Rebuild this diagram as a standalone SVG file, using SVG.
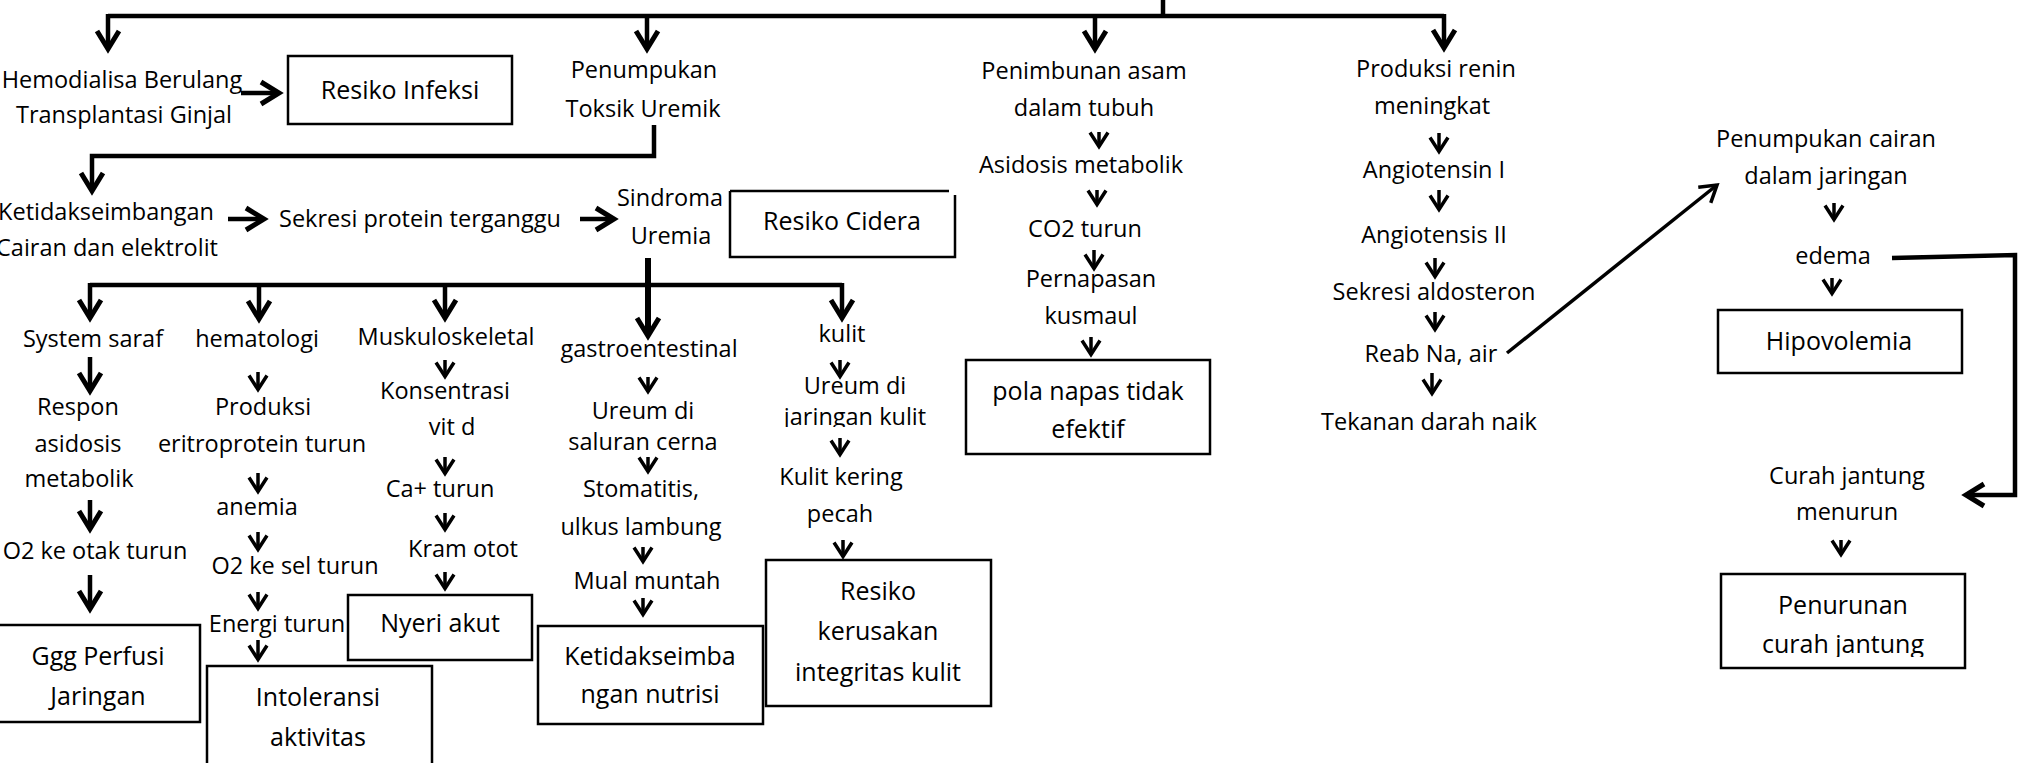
<svg xmlns="http://www.w3.org/2000/svg" width="2028" height="763" viewBox="0 0 2028 763">
<defs>
<style>
text{font-family:"Open Sans","Noto Sans",sans-serif;font-size:23.5px;fill:#000;text-anchor:middle}
.b{font-size:25px}
.box{fill:none;stroke:#000;stroke-width:2.5}
.c{fill:none;stroke:#000;stroke-linejoin:miter}
.tk{stroke-width:4.5}
.tx{stroke-width:6}
.tn{stroke-width:3.5}
.ab{marker-end:url(#big)}
.as{marker-end:url(#sm)}
.am{marker-end:url(#md)}
.mh{fill:none;stroke:#000;stroke-linejoin:miter}
</style>
<marker id="big" markerUnits="userSpaceOnUse" viewBox="-25 -15 30 30" markerWidth="30" markerHeight="30" refX="0" refY="0" orient="auto" overflow="visible"><path class="mh" stroke-width="5" d="M-18,-11 L0,0 L-18,11"/></marker>
<marker id="sm" markerUnits="userSpaceOnUse" viewBox="-25 -15 30 30" markerWidth="30" markerHeight="30" refX="0" refY="0" orient="auto" overflow="visible"><path class="mh" stroke-width="3.5" d="M-14,-9 L0,0 L-14,9"/></marker>
<marker id="md" markerUnits="userSpaceOnUse" viewBox="-25 -15 30 30" markerWidth="30" markerHeight="30" refX="0" refY="0" orient="auto" overflow="visible"><path class="mh" stroke-width="3.5" d="M-16,-10 L0,0 L-16,10"/></marker>
<clipPath id="cpJar"><rect x="700" y="380" width="300" height="47"/></clipPath>
<clipPath id="cpCur"><rect x="1700" y="620" width="300" height="37"/></clipPath>
</defs>
<rect x="0" y="0" width="2028" height="763" fill="#fff"/>

<g id="connectors">
<path class="c tk" d="M108,16 H1444"/>
<path class="c tk" d="M1163,0 V16"/>
<path class="c tk ab" d="M108,14 V49"/>
<path class="c tk ab" d="M647,16 V49"/>
<path class="c tk ab" d="M1095,16 V49"/>
<path class="c tk ab" d="M1444,14 V48"/>
<path class="c tk ab" d="M241,93 H279"/>
<path class="c tk ab" d="M654,125 V156 H92 V191"/>
<path class="c tk ab" d="M228,219 H264"/>
<path class="c tk ab" d="M580,219 H614"/>
<path class="c tk" d="M90,285 H842"/>
<path class="c tx ab" d="M648,258 V336"/>
<path class="c tk ab" d="M90,283 V318"/>
<path class="c tk ab" d="M259,285 V319"/>
<path class="c tk ab" d="M445,285 V318"/>
<path class="c tk ab" d="M842,283 V318"/>
<path class="c tk ab" d="M90,357 V391"/>
<path class="c tk ab" d="M90,500 V529"/>
<path class="c tk ab" d="M90,575 V609"/>
<path class="c tk ab" d="M1892,258 L2015,255 V495 H1966"/>
<path class="c tn as" d="M258,372 V389.5"/>
<path class="c tn as" d="M258,473 V491.5"/>
<path class="c tn as" d="M258,532 V549.5"/>
<path class="c tn as" d="M258,592 V608.5"/>
<path class="c tn as" d="M258,640 V659.5"/>
<path class="c tn as" d="M445,360 V376.5"/>
<path class="c tn as" d="M445,457 V473.5"/>
<path class="c tn as" d="M445,513 V529.5"/>
<path class="c tn as" d="M445,572 V588.5"/>
<path class="c tn as" d="M648,377 V391.5"/>
<path class="c tn as" d="M648,457 V471.5"/>
<path class="c tn as" d="M643,547 V561.5"/>
<path class="c tn as" d="M643,598 V614.5"/>
<path class="c tn as" d="M840,360 V376.5"/>
<path class="c tn as" d="M840,438 V454.5"/>
<path class="c tn as" d="M843,540 V556.5"/>
<path class="c tn as" d="M1099,132 V146.5"/>
<path class="c tn as" d="M1097,190 V204.5"/>
<path class="c tn as" d="M1094,250 V268.5"/>
<path class="c tn as" d="M1091,337 V354.5"/>
<path class="c tn as" d="M1439,133 V151.5"/>
<path class="c tn as" d="M1439,190 V209.5"/>
<path class="c tn as" d="M1435,258 V276.5"/>
<path class="c tn as" d="M1435,312 V329.5"/>
<path class="c tn as" d="M1432,373 V393.5"/>
<path class="c tn as" d="M1834,203 V219.5"/>
<path class="c tn as" d="M1832,278 V293.5"/>
<path class="c tn as" d="M1841,540 V554.5"/>
<path class="c tn am" d="M1507,353 L1717,185"/>
</g>

<g id="hemodialisa"><text x="122" y="88">Hemodialisa Berulang</text><text x="124" y="123">Transplantasi Ginjal</text></g>
<g id="resiko-infeksi"><rect class="box" x="288" y="56" width="224" height="68"/><text class="b" x="400" y="99">Resiko Infeksi</text></g>
<g id="penumpukan-toksik"><text x="644" y="78">Penumpukan</text><text x="643" y="117">Toksik Uremik</text></g>
<g id="ketidakseimbangan-cairan"><text x="106" y="220">Ketidakseimbangan</text><text x="107" y="256">Cairan dan elektrolit</text></g>
<g id="sekresi-protein"><text x="420" y="227">Sekresi protein terganggu</text></g>
<g id="sindroma-uremia"><text x="670" y="206">Sindroma</text><text x="671" y="244">Uremia</text></g>
<g id="resiko-cidera"><path class="box" d="M730,191 H949 M955,195 V257 H730 V191"/><text class="b" x="842" y="230">Resiko Cidera</text></g>

<g id="penimbunan-asam"><text x="1084" y="79">Penimbunan asam</text><text x="1084" y="116">dalam tubuh</text></g>
<g id="asidosis-metabolik"><text x="1081" y="173">Asidosis metabolik</text></g>
<g id="co2-turun"><text x="1085" y="237">CO2 turun</text></g>
<g id="pernapasan-kusmaul"><text x="1091" y="287">Pernapasan</text><text x="1091" y="324">kusmaul</text></g>
<g id="pola-napas"><rect class="box" x="966" y="360" width="244" height="94"/><text class="b" x="1088" y="400">pola napas tidak</text><text class="b" x="1088" y="438">efektif</text></g>

<g id="produksi-renin"><text x="1436" y="77">Produksi renin</text><text x="1432" y="114">meningkat</text></g>
<g id="angiotensin-1"><text x="1434" y="178">Angiotensin I</text></g>
<g id="angiotensis-2"><text x="1434" y="243">Angiotensis II</text></g>
<g id="sekresi-aldosteron"><text x="1434" y="300">Sekresi aldosteron</text></g>
<g id="reab-na"><text x="1431" y="362">Reab Na, air</text></g>
<g id="tekanan-darah"><text x="1429" y="430">Tekanan darah naik</text></g>

<g id="penumpukan-cairan"><text x="1826" y="147">Penumpukan cairan</text><text x="1826" y="184">dalam jaringan</text></g>
<g id="edema"><text x="1833" y="264">edema</text></g>
<g id="hipovolemia"><rect class="box" x="1718" y="310" width="244" height="63"/><text class="b" x="1839" y="350">Hipovolemia</text></g>
<g id="curah-jantung"><text x="1847" y="484">Curah jantung</text><text x="1847" y="520">menurun</text></g>
<g id="penurunan-curah"><rect class="box" x="1721" y="574" width="244" height="94"/><text class="b" x="1843" y="614">Penurunan</text><text class="b" x="1843" y="653" clip-path="url(#cpCur)">curah jantung</text></g>

<g id="system-saraf"><text x="93" y="347">System saraf</text></g>
<g id="respon-asidosis"><text x="78" y="415">Respon</text><text x="78" y="452">asidosis</text><text x="79" y="487">metabolik</text></g>
<g id="o2-otak"><text x="95" y="559">O2 ke otak turun</text></g>
<g id="ggg-perfusi"><rect class="box" x="-3" y="625" width="203" height="97"/><text class="b" x="98" y="665">Ggg Perfusi</text><text class="b" x="98" y="705">Jaringan</text></g>

<g id="hematologi"><text x="257" y="347">hematologi</text></g>
<g id="produksi-eritroprotein"><text x="263" y="415">Produksi</text><text x="262" y="452">eritroprotein turun</text></g>
<g id="anemia"><text x="257" y="515">anemia</text></g>
<g id="o2-sel"><text x="295" y="574">O2 ke sel turun</text></g>
<g id="energi-turun"><text x="277" y="632">Energi turun</text></g>
<g id="intoleransi"><rect class="box" x="207" y="666" width="225" height="110"/><text class="b" x="318" y="706">Intoleransi</text><text class="b" x="318" y="746">aktivitas</text></g>

<g id="muskuloskeletal"><text x="446" y="345">Muskuloskeletal</text></g>
<g id="konsentrasi"><text x="445" y="399">Konsentrasi</text><text x="452" y="435">vit d</text></g>
<g id="ca-turun"><text x="440" y="497">Ca+ turun</text></g>
<g id="kram-otot"><text x="463" y="557">Kram otot</text></g>
<g id="nyeri-akut"><rect class="box" x="348" y="595" width="184" height="65"/><text class="b" x="440" y="632">Nyeri akut</text></g>

<g id="gastroentestinal"><text x="649" y="357">gastroentestinal</text></g>
<g id="ureum-saluran"><text x="643" y="419">Ureum di</text><text x="643" y="450">saluran cerna</text></g>
<g id="stomatitis"><text x="641" y="497">Stomatitis,</text><text x="641" y="535">ulkus lambung</text></g>
<g id="mual-muntah"><text x="647" y="589">Mual muntah</text></g>
<g id="ketidakseimbangan-nutrisi"><rect class="box" x="538" y="626" width="225" height="98"/><text class="b" x="650" y="665">Ketidakseimba</text><text class="b" x="650" y="703">ngan nutrisi</text></g>

<g id="kulit"><text x="842" y="342">kulit</text></g>
<g id="ureum-kulit"><text x="855" y="394">Ureum di</text><text x="855" y="425" clip-path="url(#cpJar)">jaringan kulit</text></g>
<g id="kulit-kering"><text x="841" y="485">Kulit kering</text><text x="840" y="522">pecah</text></g>
<g id="resiko-kerusakan"><rect class="box" x="766" y="560" width="225" height="146"/><text class="b" x="878" y="600">Resiko</text><text class="b" x="878" y="640">kerusakan</text><text class="b" x="878" y="681">integritas kulit</text></g>
</svg>
